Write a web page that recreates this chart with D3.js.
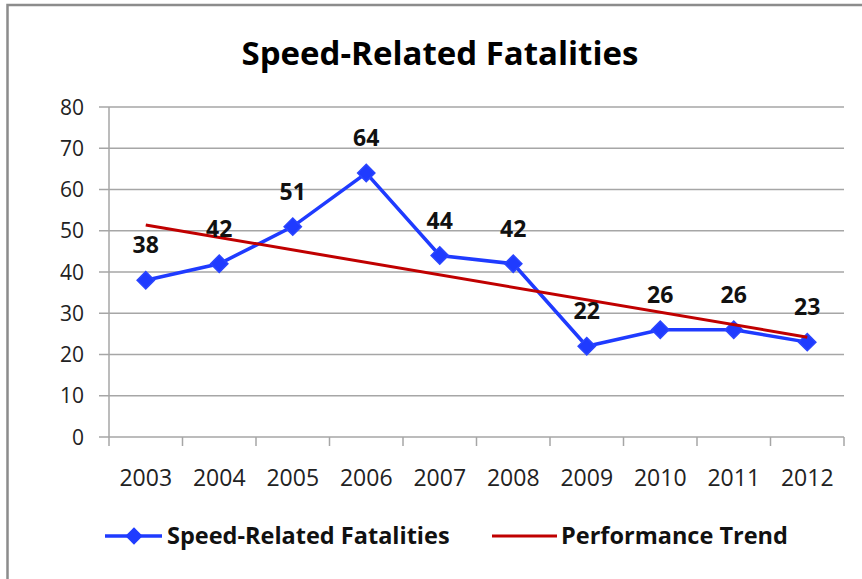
<!DOCTYPE html>
<html>
<head>
<meta charset="utf-8">
<script src="https://cdn.jsdelivr.net/npm/d3@7"></script>
<style>
  body { margin: 0; background: #fff; }
  svg text { font-family: "Open Sans", "Liberation Sans", sans-serif; }
</style>
</head>
<body>
<div id="chart"></div>
<script>
const years = ["2003", "2004", "2005", "2006", "2007", "2008", "2009", "2010", "2011", "2012"];
const fatalities = [38, 42, 51, 64, 44, 42, 22, 26, 26, 23];
// trend line end points (first and last year)
const trendYears = ["2003", "2012"];
const trendValues = [51.4, 24.2];
const yTicks = [0, 10, 20, 30, 40, 50, 60, 70, 80];

const W = 862, H = 579;
const margin = { top: 107, right: 18, bottom: 142, left: 109 };
const width = W - margin.left - margin.right;
const height = H - margin.top - margin.bottom;

const svg = d3.select("#chart").append("svg")
    .attr("width", W)
    .attr("height", H);

// chart border
svg.append("path")
    .attr("d", `M7.5,${H} L7.5,5 L${W},5`)
    .attr("fill", "none")
    .attr("stroke", "#8c8c8c")
    .attr("stroke-width", 2.5);

svg.append("text")
    .attr("x", 440)
    .attr("y", 65)
    .attr("text-anchor", "middle")
    .style("font-size", "33px")
    .style("font-weight", "bold")
    .attr("fill", "#000")
    .text("Speed-Related Fatalities");

const g = svg.append("g")
    .attr("transform", `translate(${margin.left},${margin.top})`);

const x = d3.scaleBand()
    .domain(years)
    .range([0, width]);

const y = d3.scaleLinear()
    .domain([0, 80])
    .range([height, 0]);

// gridlines
g.selectAll(".grid")
    .data(yTicks)
    .enter()
    .append("line")
    .attr("class", "grid")
    .attr("x1", -10)
    .attr("x2", width)
    .attr("y1", d => y(d))
    .attr("y2", d => y(d))
    .attr("stroke", "#a6a6a6")
    .attr("stroke-width", 1.5);

// y axis line
g.append("line")
    .attr("x1", 0).attr("x2", 0)
    .attr("y1", 0).attr("y2", height)
    .attr("stroke", "#a6a6a6")
    .attr("stroke-width", 1.5);

g.selectAll(".ylab")
    .data(yTicks)
    .enter()
    .append("text")
    .attr("class", "ylab")
    .attr("x", -25)
    .attr("y", d => y(d))
    .attr("dy", "0.36em")
    .attr("text-anchor", "end")
    .style("font-size", "21px")
    .attr("fill", "#222")
    .text(d => d);

// x ticks at band boundaries
const bounds = years.map(d => x(d)).concat([width]);
g.selectAll(".xtick")
    .data(bounds)
    .enter()
    .append("line")
    .attr("x1", d => d).attr("x2", d => d)
    .attr("y1", height).attr("y2", height + 9)
    .attr("stroke", "#a6a6a6")
    .attr("stroke-width", 1.5);

g.selectAll(".xlab")
    .data(years)
    .enter()
    .append("text")
    .attr("x", d => x(d) + x.bandwidth() / 2)
    .attr("y", height + 49)
    .attr("text-anchor", "middle")
    .style("font-size", "23px")
    .attr("fill", "#222")
    .text(d => d);

const cx = d => x(d) + x.bandwidth() / 2;

const pts = years.map((d, i) => ({ year: d, value: fatalities[i] }));

g.append("path")
    .datum(pts)
    .attr("fill", "none")
    .attr("stroke", "#1f3bff")
    .attr("stroke-width", 3.5)
    .attr("d", d3.line().x(d => cx(d.year)).y(d => y(d.value)));

const diamond = d3.symbol().type(d3.symbolDiamond2).size(190);

g.selectAll(".marker")
    .data(pts)
    .enter()
    .append("path")
    .attr("transform", d => `translate(${cx(d.year)},${y(d.value)})`)
    .attr("d", diamond)
    .attr("fill", "#1f3bff")
    .attr("stroke", "#2a45ff")
    .attr("stroke-width", 1.5);

// trend drawn over the series
g.append("line")
    .attr("x1", cx(trendYears[0]))
    .attr("y1", y(trendValues[0]))
    .attr("x2", cx(trendYears[1]))
    .attr("y2", y(trendValues[1]))
    .attr("stroke", "#c00000")
    .attr("stroke-width", 3);

g.selectAll(".vlab")
    .data(pts)
    .enter()
    .append("text")
    .attr("x", d => cx(d.year))
    .attr("y", d => y(d.value) - 27)
    .attr("text-anchor", "middle")
    .style("font-size", "23px")
    .style("font-weight", "bold")
    .attr("fill", "#111")
    .text(d => d.value);

// legend
const leg = svg.append("g");
leg.append("line")
    .attr("x1", 105).attr("x2", 162)
    .attr("y1", 536).attr("y2", 536)
    .attr("stroke", "#1f3bff")
    .attr("stroke-width", 3.5);
leg.append("path")
    .attr("transform", "translate(134,536)")
    .attr("d", diamond)
    .attr("fill", "#1f3bff");
leg.append("text")
    .attr("x", 167).attr("y", 544)
    .style("font-size", "23.5px")
    .style("font-weight", "bold")
    .attr("fill", "#111")
    .text("Speed-Related Fatalities");
leg.append("line")
    .attr("x1", 492).attr("x2", 557)
    .attr("y1", 536).attr("y2", 536)
    .attr("stroke", "#c00000")
    .attr("stroke-width", 3);
leg.append("text")
    .attr("x", 561).attr("y", 544)
    .style("font-size", "23.5px")
    .style("font-weight", "bold")
    .attr("fill", "#111")
    .text("Performance Trend");
</script>
</body>
</html>
